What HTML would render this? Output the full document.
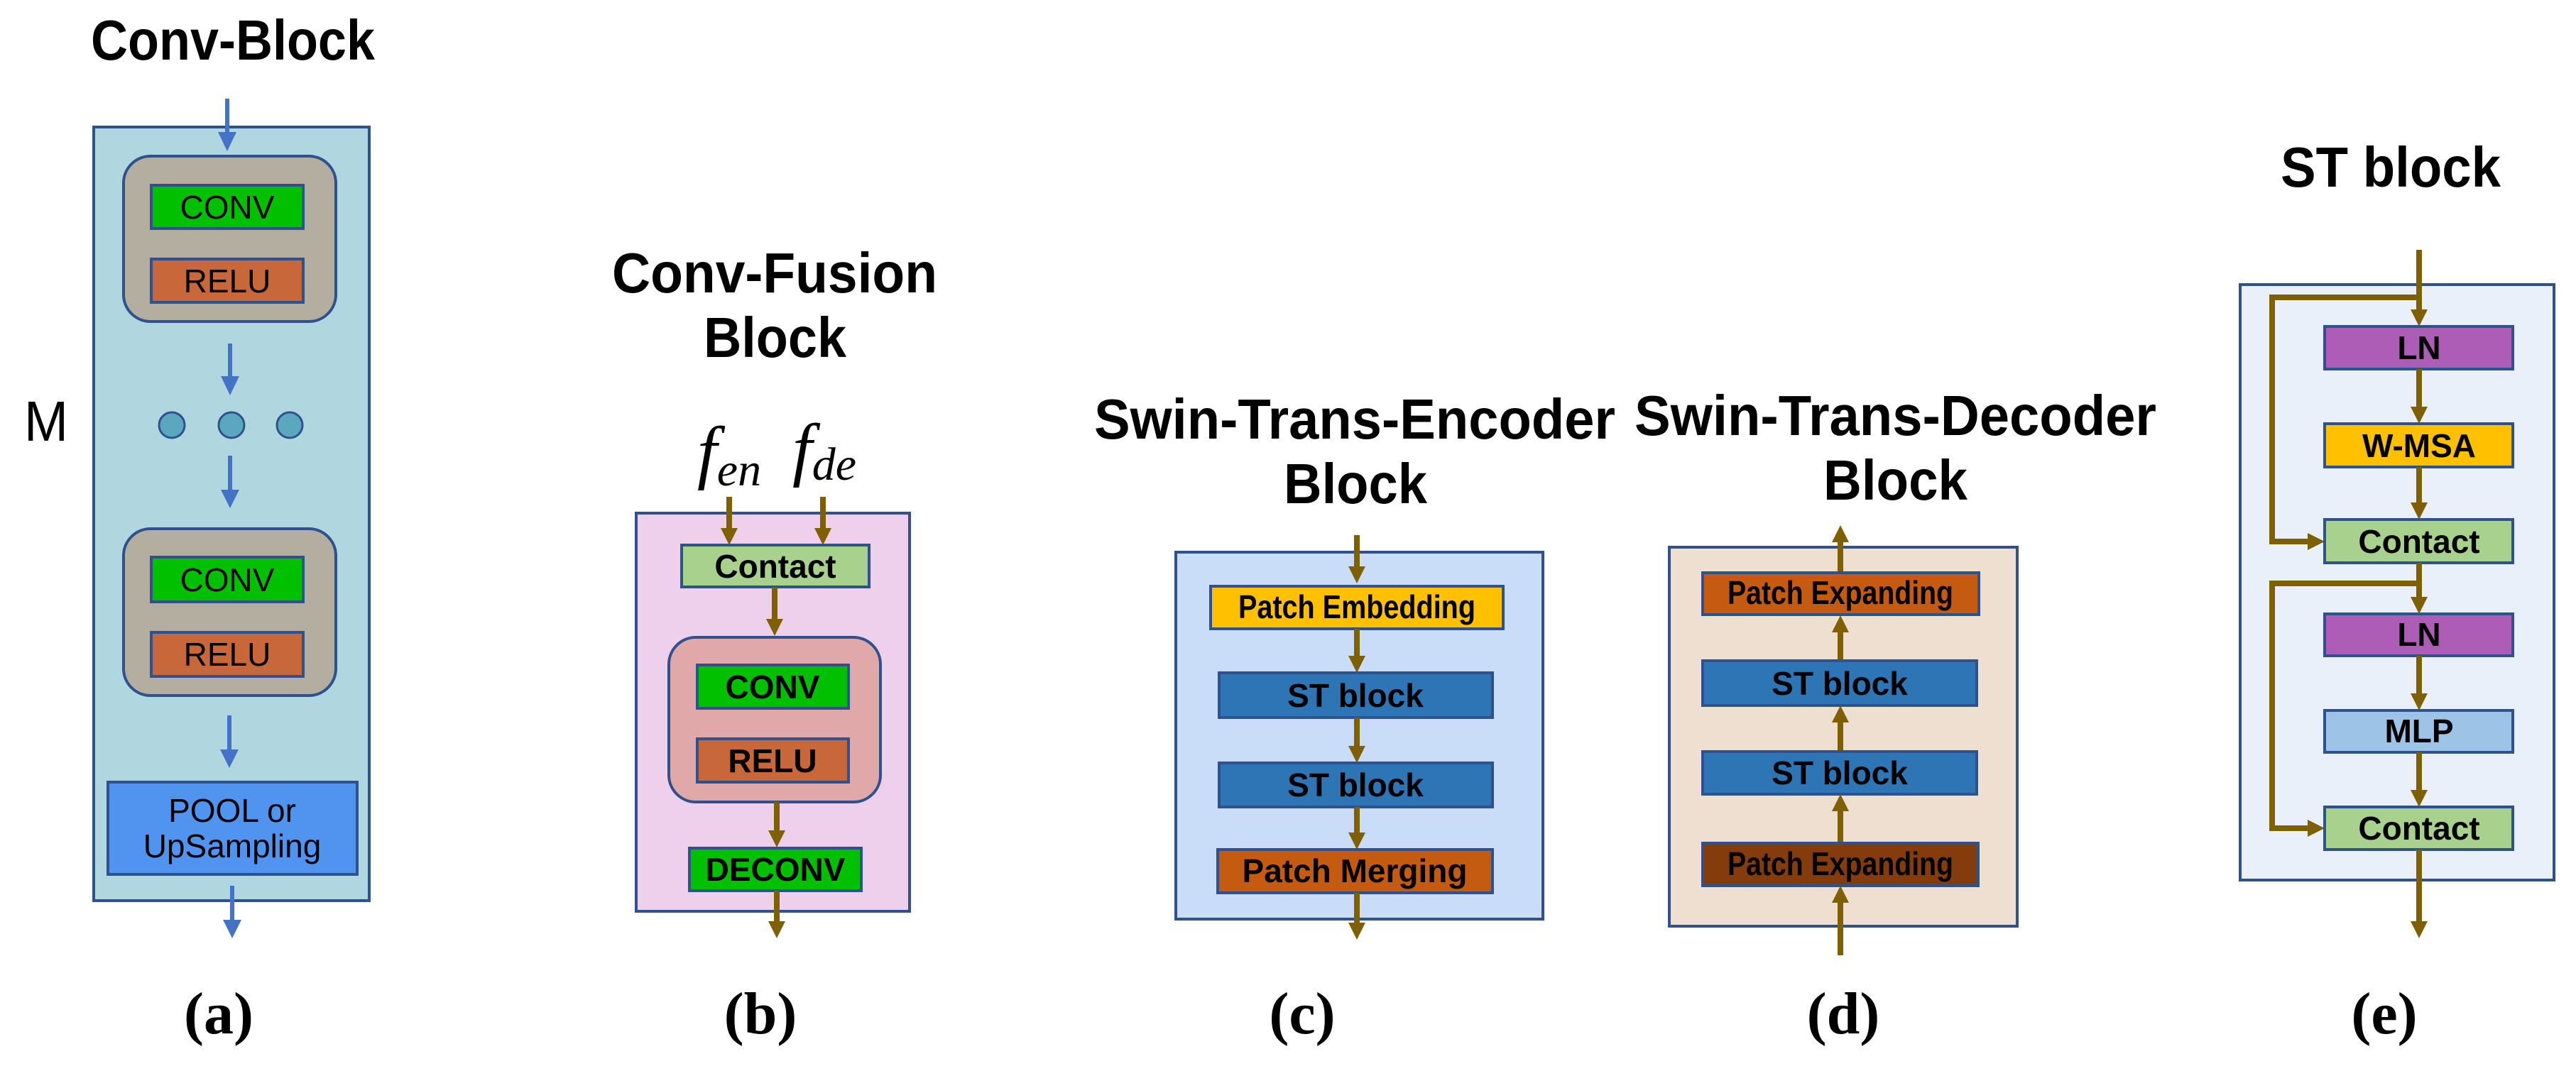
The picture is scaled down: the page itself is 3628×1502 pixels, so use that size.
<!DOCTYPE html>
<html><head><meta charset="utf-8"><style>
html,body{margin:0;padding:0;background:#fff;}
svg{display:block;}
text{font-family:"Liberation Sans",sans-serif;}
.t{font-weight:bold;font-size:80px;fill:#000;}
.l{font-size:46px;fill:#000;text-anchor:middle;}
.lb{font-size:46px;fill:#000;text-anchor:middle;font-weight:bold;}
.cap{font-family:"Liberation Serif",serif;font-weight:bold;font-size:84px;text-anchor:middle;}
.bx{stroke:#2f528f;stroke-width:4;}
.bl{stroke:#4472c4;stroke-width:6;fill:none;}
.br{stroke:#7f6000;stroke-width:8;fill:none;}
</style></head><body>
<svg width="3628" height="1502" viewBox="0 0 3628 1502" xmlns="http://www.w3.org/2000/svg">

<!-- (a) Conv-Block -->
<text class="t" x="128" y="84" textLength="400" lengthAdjust="spacingAndGlyphs">Conv-Block</text>
<text class="t" x="34" y="621" textLength="62" lengthAdjust="spacingAndGlyphs" style="font-weight:normal">M</text>
<rect class="bx" x="132" y="179" width="388" height="1090" fill="#b0d7e0"/>
<g>
<line class="bl" x1="320" y1="139" x2="320" y2="188"/><polygon points="307,186 333,186 320,213" fill="#4472c4"/>
<rect class="bx" x="174" y="220" width="299" height="233" rx="38" fill="#b3ae9f"/>
<rect class="bx" x="213" y="261" width="214" height="61" fill="#00c000"/>
<text class="l" x="320" y="308">CONV</text>
<rect class="bx" x="213" y="365" width="214" height="61" fill="#c8683a"/>
<text class="l" x="320" y="412">RELU</text>
<line class="bl" x1="324" y1="484" x2="324" y2="532"/><polygon points="311,530 337,530 324,557" fill="#4472c4"/>
<circle cx="242" cy="599" r="18" fill="#5ba8be" stroke="#2f528f" stroke-width="3"/>
<circle cx="326" cy="599" r="18" fill="#5ba8be" stroke="#2f528f" stroke-width="3"/>
<circle cx="408" cy="599" r="18" fill="#5ba8be" stroke="#2f528f" stroke-width="3"/>
<line class="bl" x1="324" y1="642" x2="324" y2="692"/><polygon points="311,690 337,690 324,716" fill="#4472c4"/>
<rect class="bx" x="174" y="745" width="299" height="235" rx="38" fill="#b3ae9f"/>
<rect class="bx" x="213" y="785" width="214" height="63" fill="#00c000"/>
<text class="l" x="320" y="833">CONV</text>
<rect class="bx" x="213" y="891" width="214" height="62" fill="#c8683a"/>
<text class="l" x="320" y="938">RELU</text>
<line class="bl" x1="323" y1="1008" x2="323" y2="1058"/><polygon points="310,1056 336,1056 323,1082" fill="#4472c4"/>
<rect class="bx" x="152" y="1102" width="351" height="130" fill="#5094f0"/>
<text class="l" x="327" y="1158">POOL or</text>
<text class="l" x="327" y="1208">UpSampling</text>
<line class="bl" x1="327" y1="1248" x2="327" y2="1298"/><polygon points="314,1296 340,1296 327,1322" fill="#4472c4"/>
</g>
<text class="cap" x="308" y="1456">(a)</text>

<!-- (b) Conv-Fusion -->
<text class="t" x="862" y="412" textLength="458" lengthAdjust="spacingAndGlyphs">Conv-Fusion</text>
<text class="t" x="991" y="503" textLength="201" lengthAdjust="spacingAndGlyphs">Block</text>
<text x="982" y="670" style="font-family:'Liberation Serif',serif;font-style:italic;font-size:100px">f<tspan font-size="66" dy="14">en</tspan></text>
<text x="1116" y="666" style="font-family:'Liberation Serif',serif;font-style:italic;font-size:100px">f<tspan font-size="66" dy="10">de</tspan></text>
<rect class="bx" x="896" y="723" width="385" height="561" fill="#efd0ec"/>
<line class="br" x1="1027" y1="700" x2="1027" y2="746"/><polygon points="1015,744 1039,744 1027,768" fill="#7f6000"/>
<line class="br" x1="1159" y1="700" x2="1159" y2="746"/><polygon points="1147,744 1171,744 1159,768" fill="#7f6000"/>
<rect class="bx" x="960" y="768" width="264" height="59" fill="#a9d18e"/>
<text class="lb" x="1092" y="814" font-size="44">Contact</text>
<line class="br" x1="1091" y1="827" x2="1091" y2="874"/><polygon points="1079,872 1103,872 1091,896" fill="#7f6000"/>
<rect class="bx" x="942" y="898" width="298" height="232" rx="38" fill="#e0a8a8"/>
<rect class="bx" x="982" y="937" width="213" height="61" fill="#00c000"/>
<text class="lb" x="1088" y="984">CONV</text>
<rect class="bx" x="982" y="1041" width="213" height="61" fill="#c8683a"/>
<text class="lb" x="1088" y="1088">RELU</text>
<line class="br" x1="1094" y1="1130" x2="1094" y2="1172"/><polygon points="1082,1170 1106,1170 1094,1194" fill="#7f6000"/>
<rect class="bx" x="971" y="1195" width="242" height="60" fill="#00c000"/>
<text class="lb" x="1092" y="1241">DECONV</text>
<line class="br" x1="1094" y1="1255" x2="1094" y2="1300"/><polygon points="1082,1298 1106,1298 1094,1322" fill="#7f6000"/>
<text class="cap" x="1071" y="1456">(b)</text>

<!-- (c) Encoder -->
<text class="t" x="1541" y="618" textLength="734" lengthAdjust="spacingAndGlyphs">Swin-Trans-Encoder</text>
<text class="t" x="1808" y="709" textLength="202" lengthAdjust="spacingAndGlyphs">Block</text>
<rect class="bx" x="1656" y="778" width="517" height="517" fill="#c9ddf8"/>
<line class="br" x1="1911" y1="754" x2="1911" y2="800"/><polygon points="1899,798 1923,798 1911,822" fill="#7f6000"/>
<rect class="bx" x="1705" y="826" width="412" height="60" fill="#ffc000"/>
<text class="lb" x="1911" y="871" font-size="42" textLength="334" lengthAdjust="spacingAndGlyphs">Patch Embedding</text>
<line class="br" x1="1911" y1="886" x2="1911" y2="926"/><polygon points="1899,924 1923,924 1911,948" fill="#7f6000"/>
<rect class="bx" x="1717" y="948" width="385" height="63" fill="#2e75b6"/>
<text class="lb" x="1909" y="996">ST block</text>
<line class="br" x1="1911" y1="1011" x2="1911" y2="1053"/><polygon points="1899,1051 1923,1051 1911,1075" fill="#7f6000"/>
<rect class="bx" x="1717" y="1075" width="385" height="62" fill="#2e75b6"/>
<text class="lb" x="1909" y="1122">ST block</text>
<line class="br" x1="1911" y1="1137" x2="1911" y2="1175"/><polygon points="1899,1173 1923,1173 1911,1197" fill="#7f6000"/>
<rect class="bx" x="1715" y="1197" width="387" height="61" fill="#c55a11"/>
<text class="lb" x="1908" y="1243">Patch Merging</text>
<line class="br" x1="1911" y1="1258" x2="1911" y2="1302"/><polygon points="1899,1300 1923,1300 1911,1324" fill="#7f6000"/>
<text class="cap" x="1834" y="1456">(c)</text>

<!-- (d) Decoder -->
<text class="t" x="2302" y="613" textLength="735" lengthAdjust="spacingAndGlyphs">Swin-Trans-Decoder</text>
<text class="t" x="2568" y="704" textLength="203" lengthAdjust="spacingAndGlyphs">Block</text>
<rect class="bx" x="2351" y="771" width="490" height="534" fill="#efdfd0"/>
<line class="br" x1="2592" y1="807" x2="2592" y2="762"/><polygon points="2580,764 2604,764 2592,740" fill="#7f6000"/>
<rect class="bx" x="2398" y="807" width="389" height="59" fill="#c55a11"/>
<text class="lb" x="2592" y="851" font-size="42" textLength="318" lengthAdjust="spacingAndGlyphs">Patch Expanding</text>
<line class="br" x1="2592" y1="931" x2="2592" y2="889"/><polygon points="2580,891 2604,891 2592,867" fill="#7f6000"/>
<rect class="bx" x="2398" y="931" width="386" height="63" fill="#2e75b6"/>
<text class="lb" x="2591" y="979">ST block</text>
<line class="br" x1="2592" y1="1059" x2="2592" y2="1016"/><polygon points="2580,1018 2604,1018 2592,994" fill="#7f6000"/>
<rect class="bx" x="2398" y="1059" width="386" height="60" fill="#2e75b6"/>
<text class="lb" x="2591" y="1105">ST block</text>
<line class="br" x1="2592" y1="1188" x2="2592" y2="1141"/><polygon points="2580,1143 2604,1143 2592,1119" fill="#7f6000"/>
<rect class="bx" x="2398" y="1188" width="388" height="60" fill="#843c0c"/>
<text class="lb" x="2592" y="1233" font-size="42" textLength="318" lengthAdjust="spacingAndGlyphs">Patch Expanding</text>
<line class="br" x1="2592" y1="1346" x2="2592" y2="1270"/><polygon points="2580,1272 2604,1272 2592,1248" fill="#7f6000"/>
<text class="cap" x="2596" y="1456">(d)</text>

<!-- (e) ST block -->
<text class="t" x="3212" y="263" textLength="310" lengthAdjust="spacingAndGlyphs">ST block</text>
<rect class="bx" x="3155" y="401" width="442" height="839" fill="#e9f0f9"/>
<line class="br" x1="3407" y1="352" x2="3407" y2="438"/><polygon points="3395,436 3419,436 3407,460" fill="#7f6000"/>
<polyline class="br" points="3407,419 3200,419 3200,763 3252,763"/><polygon points="3250,751 3250,775 3274,763" fill="#7f6000"/>
<rect class="bx" x="3274" y="460" width="265" height="60" fill="#ad5db5"/>
<text class="lb" x="3407" y="506">LN</text>
<line class="br" x1="3407" y1="520" x2="3407" y2="575"/><polygon points="3395,573 3419,573 3407,597" fill="#7f6000"/>
<rect class="bx" x="3274" y="597" width="265" height="61" fill="#ffc000"/>
<text class="lb" x="3407" y="644">W-MSA</text>
<line class="br" x1="3407" y1="658" x2="3407" y2="710"/><polygon points="3395,708 3419,708 3407,732" fill="#7f6000"/>
<rect class="bx" x="3274" y="732" width="265" height="61" fill="#a9d18e"/>
<text class="lb" x="3407" y="779">Contact</text>
<line class="br" x1="3407" y1="793" x2="3407" y2="843"/><polygon points="3395,841 3419,841 3407,865" fill="#7f6000"/>
<polyline class="br" points="3407,822 3200,822 3200,1167 3252,1167"/><polygon points="3250,1155 3250,1179 3274,1167" fill="#7f6000"/>
<rect class="bx" x="3274" y="865" width="265" height="59" fill="#ad5db5"/>
<text class="lb" x="3407" y="910">LN</text>
<line class="br" x1="3407" y1="924" x2="3407" y2="979"/><polygon points="3395,977 3419,977 3407,1001" fill="#7f6000"/>
<rect class="bx" x="3274" y="1001" width="265" height="59" fill="#9dc3e6"/>
<text class="lb" x="3407" y="1046">MLP</text>
<line class="br" x1="3407" y1="1060" x2="3407" y2="1115"/><polygon points="3395,1113 3419,1113 3407,1137" fill="#7f6000"/>
<rect class="bx" x="3274" y="1137" width="265" height="60" fill="#a9d18e"/>
<text class="lb" x="3407" y="1183">Contact</text>
<line class="br" x1="3407" y1="1197" x2="3407" y2="1300"/><polygon points="3395,1298 3419,1298 3407,1322" fill="#7f6000"/>
<text class="cap" x="3358" y="1456">(e)</text>
</svg>
</body></html>
